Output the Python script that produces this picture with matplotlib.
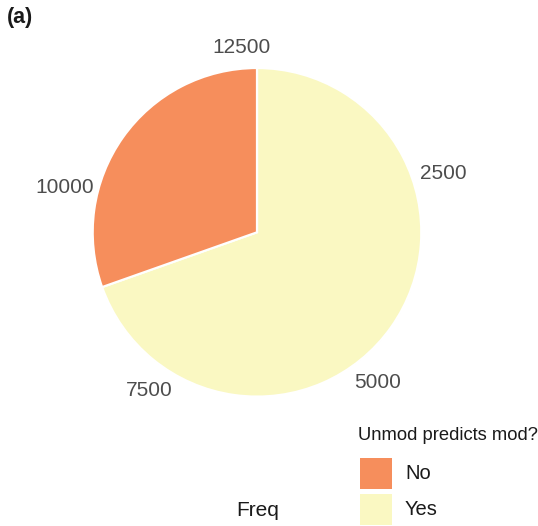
import numpy as np
import matplotlib
matplotlib.use("Agg")
import matplotlib.pyplot as plt
from matplotlib.transforms import offset_copy

# Counts per answer
categories = ["No", "Yes"]
freq = [3850, 8810]
colors = {"No": "#F68E5C", "Yes": "#FAF8C2"}
tick_values = [2500, 5000, 7500, 10000, 12500]
tick_labels = ["2500", "5000", "7500", "10000", "12500"]
legend_title = "Unmod predicts mod?"

plt.rcParams["font.family"] = ["Liberation Sans", "DejaVu Sans"]

W, H, DPI = 538, 526, 100
fig = plt.figure(figsize=(W / DPI, H / DPI), dpi=DPI)

# pie geometry in pixels
cx, cy, rad = 257.0, 232.3, 164.3
ax = fig.add_axes([0, 0, 1, 1])

total = sum(freq)
# stacked order: Yes starts at the top, No finishes the circle
order = ["Yes", "No"]
vals = [freq[categories.index(c)] for c in order]
ax.pie(vals, colors=[colors[c] for c in order], startangle=90,
       counterclock=False, radius=1.0, center=(0, 0),
       wedgeprops=dict(edgecolor="white", linewidth=1.6))
ax.set_aspect("auto")
ax.set_xlim(-cx / rad, (W - cx) / rad)
ax.set_ylim(-(H - cy) / rad, cy / rad)
ax.axis("off")

# angular tick labels, nudged outward horizontally by part of their width
renderer = fig.canvas.get_renderer()
r_lab = 1.14
for v, lab in zip(tick_values, tick_labels):
    th = 2 * np.pi * v / total
    t = ax.text(r_lab * np.sin(th), r_lab * np.cos(th), lab, ha="center",
                va="center", fontsize=15, color="#4D4D4D")
    w_px = t.get_window_extent(renderer).width
    dx_pt = 0.4 * 0.5 * np.sin(th) * w_px * 72 / DPI
    t.set_transform(offset_copy(ax.transData, fig=fig, x=dx_pt,
                                y=-2 * 72 / DPI, units="points"))

# axis title
fig.text(258 / W, 1 - 511 / H, "Freq", ha="center", va="center",
         fontsize=15, color="#1A1A1A")

# panel tag
fig.text(7 / W, 1 - 18 / H, "(a)", ha="left", va="center",
         fontsize=15.5, fontweight="bold", color="#1A1A1A")

# legend
fig.text(358 / W, 1 - 436 / H, legend_title, ha="left", va="center",
         fontsize=13.2, color="#1A1A1A")
key_w, key_h = 32, 31
key_tops = [458, 494]
for c, top in zip(categories, key_tops):
    fig.patches.append(plt.Rectangle((360 / W, 1 - (top + key_h) / H),
                                     key_w / W, key_h / H,
                                     transform=fig.transFigure,
                                     facecolor=colors[c], edgecolor="none"))
    fig.text(405 / W, 1 - (top + key_h / 2) / H, c, ha="left", va="center",
             fontsize=14.5, color="#1A1A1A")

fig.savefig("out.png", dpi=DPI)
